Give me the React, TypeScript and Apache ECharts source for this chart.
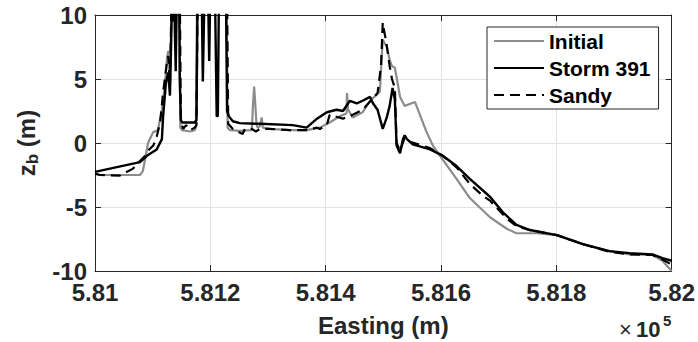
import React, { useEffect, useRef } from "react";
import * as echarts from "echarts";

const seriesNames = ["Initial", "Storm 391", "Sandy"];
const xTickValues = [581000, 581200, 581400, 581600, 581800, 582000];
const yTickValues = [-10, -5, 0, 5, 10];

const initialData: number[][] = [
  [581000, -2.4], [581009, -2.5], [581078, -2.5], [581083, -2.2], [581088, -1.0],
  [581092, 0], [581095, 0.3], [581101, 0.85], [581109, 1.0], [581116, 2.6],
  [581121, 4.4], [581125, 6.7], [581127, 7.2], [581130, 4.8], [581132, 7],
  [581134, 12], [581146, 12], [581148, 1.2], [581151, 1.0], [581165, 0.9],
  [581173, 1.0], [581175, 1.2], [581177, 12], [581228, 12], [581230, 1.2],
  [581234, 1.0], [581251, 0.95], [581272, 1.0], [581274, 3.0], [581276, 4.4],
  [581278, 3.0], [581280, 1.5], [581282, 1.2], [581286, 1.3], [581289, 2.0],
  [581291, 1.2], [581303, 1.1], [581338, 1.0], [581367, 1.0], [581390, 1.2],
  [581407, 1.6], [581425, 2.1], [581436, 2.3], [581437, 3.9], [581439, 2.6],
  [581447, 2.0], [581464, 2.4], [581477, 3.3], [581489, 3.8], [581494, 4.0],
  [581497, 6.5], [581499, 8.06], [581506, 7.5], [581511, 6.5], [581515, 6.0],
  [581520, 5.9], [581529, 3.6], [581537, 2.9], [581555, 3.2], [581575, 0.85],
  [581586, -0.2], [581603, -1.3], [581627, -2.8], [581650, -4.3], [581685, -5.8],
  [581714, -6.7], [581731, -7.05], [581766, -7.05], [581801, -7.2], [581846, -7.9],
  [581892, -8.45], [581927, -8.7], [581967, -8.75], [581984, -9.2], [582000, -10]
];

const stormData: number[][] = [
  [581000, -2.25], [581078, -1.5], [581090, -1.0], [581107, -0.5], [581116, 0.3],
  [581118, 2.0], [581123, 4.7], [581127, 5.5], [581130, 3.7], [581133, 10.5],
  [581135, 9.5], [581137, 12], [581140, 5.6], [581142, 12], [581146, 12],
  [581147, 5], [581149, 1.8], [581151, 1.6], [581173, 1.6], [581176, 1.8],
  [581178, 12], [581185, 12], [581187, 4.8], [581190, 12], [581196, 12],
  [581198, 6.4], [581200, 12], [581208, 12], [581211, 2.1], [581213, 2.1],
  [581215, 12], [581227, 12], [581229, 2.5], [581232, 2.1], [581239, 1.7],
  [581251, 1.55], [581286, 1.5], [581343, 1.4], [581367, 1.2], [581385, 1.9],
  [581402, 2.4], [581419, 2.6], [581430, 2.5], [581442, 3.3], [581454, 3.1],
  [581464, 3.3], [581477, 3.6], [581482, 3.1], [581490, 2.6], [581499, 1.1],
  [581506, 2.0], [581511, 2.9], [581516, 4.3], [581520, 3.4], [581523, -0.2],
  [581529, -0.8], [581534, 0.3], [581537, 0.6], [581541, 0.3], [581551, -0.1],
  [581581, -0.5], [581603, -1.0], [581627, -1.8], [581650, -2.8], [581685, -4.2],
  [581707, -5.4], [581731, -6.4], [581754, -6.8], [581801, -7.2], [581846, -7.9],
  [581892, -8.45], [581927, -8.6], [581967, -8.7], [581984, -9.0], [582000, -9.2]
];

const sandyData: number[][] = [
  [581000, -2.4], [581009, -2.5], [581043, -2.55], [581066, -2.0], [581078, -1.4],
  [581087, -1.0], [581092, -0.6], [581101, -0.2], [581107, 0.5], [581113, 1.6],
  [581118, 3.9], [581125, 6.4], [581127, 6.8], [581130, 4.5], [581133, 12],
  [581147, 12], [581149, 1.6], [581153, 1.1], [581158, 1.4], [581165, 1.0],
  [581173, 1.2], [581176, 1.4], [581178, 12], [581229, 12], [581231, 1.5],
  [581239, 1.1], [581256, 0.7], [581260, 1.1], [581272, 1.1], [581279, 0.9],
  [581286, 1.1], [581303, 1.1], [581338, 1.0], [581367, 1.0], [581385, 1.2],
  [581390, 1.1], [581402, 1.4], [581407, 2.2], [581430, 1.9], [581447, 2.2],
  [581464, 2.6], [581482, 3.5], [581490, 3.9], [581496, 6.0], [581499, 9.4],
  [581506, 7.6], [581511, 6.0], [581515, 5.0], [581520, 4.3], [581523, 0.0],
  [581529, -0.6], [581537, 0.4], [581546, 0.1], [581581, -0.4], [581603, -1.0],
  [581627, -1.9], [581650, -3.2], [581672, -4.1], [581685, -4.5], [581714, -5.9],
  [581731, -6.5], [581754, -6.8], [581801, -7.2], [581846, -7.9], [581892, -8.5],
  [581927, -8.7], [581967, -8.75], [581984, -9.1], [582000, -9.5]
];

const FONT = "'Liberation Sans', Arial, Helvetica, sans-serif";
const TXT = "#262626";

export default function App() {
  const ref = useRef<HTMLDivElement>(null);
  useEffect(() => {
    if (!ref.current) return;
    const chart = echarts.init(ref.current, undefined, { renderer: "svg" });
    const fmtX = (v: number) => String(parseFloat((v / 1e5).toFixed(4)));
    const xBase = {
      type: "value",
      min: xTickValues[0],
      max: xTickValues[xTickValues.length - 1],
      interval: xTickValues[1] - xTickValues[0],
    };
    const yBase = {
      type: "value",
      min: yTickValues[0],
      max: yTickValues[yTickValues.length - 1],
      interval: yTickValues[1] - yTickValues[0],
    };
    const axisLine = { show: true, onZero: false, lineStyle: { color: TXT, width: 1 } };
    const axisTick = { show: true, inside: true, length: 6, lineStyle: { color: TXT } };
    chart.setOption({
      animation: false,
      backgroundColor: "#ffffff",
      grid: { left: 95, right: 26, top: 15, bottom: 69, containLabel: false },
      legend: {
        orient: "vertical",
        left: 487,
        top: 27,
        itemWidth: 50,
        itemHeight: 14,
        itemGap: 5,
        padding: [3, 8, 3, 6],
        borderColor: TXT,
        borderWidth: 1,
        backgroundColor: "#ffffff",
        data: seriesNames,
        itemStyle: { opacity: 0 },
        textStyle: { fontFamily: FONT, fontSize: 21, fontWeight: "bold", color: "#000", lineHeight: 22 },
      },
      xAxis: [
        {
          ...xBase,
          position: "bottom",
          name: "Easting (m)",
          nameLocation: "middle",
          nameGap: 42,
          nameTextStyle: { fontFamily: FONT, fontSize: 24, fontWeight: "bold", color: TXT },
          axisLine,
          axisTick,
          axisLabel: {
            formatter: fmtX,
            margin: 9,
            fontFamily: FONT,
            fontSize: 24,
            fontWeight: "bold",
            color: TXT,
          },
          splitLine: { show: true, lineStyle: { color: "#e2e2e2", width: 1 } },
        },
        {
          ...xBase,
          position: "top",
          axisLine,
          axisTick,
          axisLabel: { show: false },
          splitLine: { show: false },
        },
      ],
      yAxis: [
        {
          ...yBase,
          position: "left",
          name: "{a|z}{b|b}{a| (m)}",
          nameLocation: "middle",
          nameGap: 52,
          nameRotate: 90,
          nameTextStyle: {
            rich: {
              a: { fontFamily: FONT, fontSize: 24, fontWeight: "bold", color: TXT },
              b: { fontFamily: FONT, fontSize: 17, fontWeight: "bold", color: TXT, padding: [12, 0, 0, 0] },
            },
          },
          axisLine,
          axisTick,
          axisLabel: {
            margin: 8,
            fontFamily: FONT,
            fontSize: 24,
            fontWeight: "bold",
            color: TXT,
          },
          splitLine: { show: true, lineStyle: { color: "#e2e2e2", width: 1 } },
        },
        {
          ...yBase,
          position: "right",
          axisLine,
          axisTick,
          axisLabel: { show: false },
          splitLine: { show: false },
        },
      ],
      graphic: [
        {
          type: "text",
          left: 619,
          top: 318,
          style: { text: "×", font: `normal 22px ${FONT}`, fill: TXT },
        },
        {
          type: "text",
          left: 636,
          top: 318,
          style: { text: "10", font: `bold 22px ${FONT}`, fill: TXT },
        },
        {
          type: "text",
          left: 663,
          top: 313,
          style: { text: "5", font: `bold 15px ${FONT}`, fill: TXT },
        },
      ],
      series: [
        {
          name: seriesNames[0],
          type: "line",
          data: initialData,
          symbol: "none",
          clip: true,
          lineStyle: { color: "#8c8c8c", width: 2.2 },
          itemStyle: { color: "#8c8c8c" },
        },
        {
          name: seriesNames[1],
          type: "line",
          data: stormData,
          symbol: "none",
          clip: true,
          lineStyle: { color: "#000000", width: 2.4 },
          itemStyle: { color: "#000000" },
        },
        {
          name: seriesNames[2],
          type: "line",
          data: sandyData,
          symbol: "none",
          clip: true,
          lineStyle: { color: "#000000", width: 2.2, type: [10, 6] },
          itemStyle: { color: "#000000" },
        },
      ],
    });
    return () => chart.dispose();
  }, []);
  return (
    <div
      ref={ref}
      style={{ position: "fixed", left: 0, top: 0, width: 698, height: 342, background: "#fff" }}
    />
  );
}
